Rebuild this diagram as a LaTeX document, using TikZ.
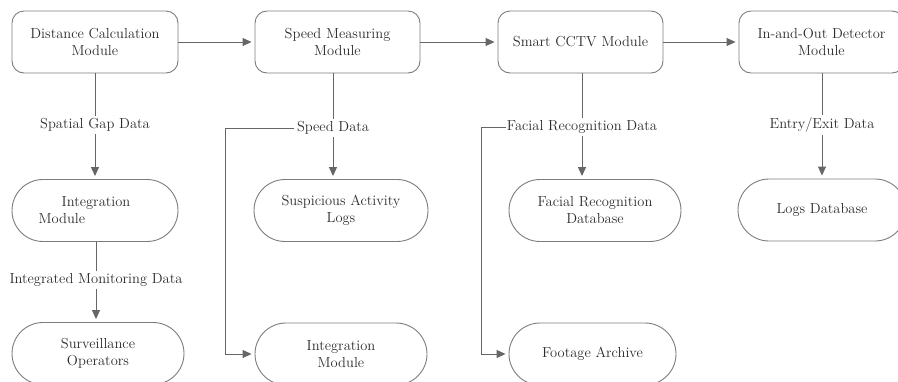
\documentclass[tikz,border=0pt]{standalone}
\usepackage{tikz}
\usetikzlibrary{shapes.misc}
\usetikzlibrary{arrows.meta}
\definecolor{linegray}{HTML}{666666}
\definecolor{boxgray}{HTML}{7C7C7C}
\definecolor{txtgray}{HTML}{2C2C2C}
\tikzset{module/.style={rectangle, draw=boxgray, line width=0.9pt, rounded corners=12pt, minimum height=62pt, inner sep=0pt, align=center, text=txtgray, font=\fontsize{14.5}{17}\selectfont}}
\tikzset{store/.style={rounded rectangle, draw=boxgray, line width=0.9pt, minimum height=62pt, inner sep=0pt, align=center, text=txtgray, font=\fontsize{14.5}{17}\selectfont}}
\tikzset{flowlab/.style={inner sep=2.5pt, text=txtgray, font=\fontsize{14.5}{17}\selectfont}}
\tikzset{arr/.style={draw=linegray, line width=1pt, -{Triangle[length=9pt,width=8pt]}, shorten >=3pt}}
\tikzset{link/.style={draw=linegray, line width=1pt}}

\begin{document}
\begin{tikzpicture}[x=1pt,y=-1pt]
  \useasboundingbox (0,0) rectangle (898,381);
  \begin{scope}
    \clip (0,0) rectangle (898,381);
  % top row of modules
  \foreach \x/\w/\lab/\txt in {
    95/166/dcm/{Distance Calculation\\Module},
    337.5/165/smm/{Speed Measuring\\Module},
    580.5/165/scm/{Smart CCTV Module},
    821.5/165/iod/{In-and-Out Detector\\Module}%
  } {
    \node[module, minimum width=\w pt] (\lab) at (\x, 42) {\txt};
  }
  % outputs
  \node[store, minimum width=166pt, align=left] (iml) at (95, 210.5) {\hspace*{23pt}Integration\hspace*{21pt}\\Module};
  \node[store, minimum width=174pt] (sal) at (341, 210.5) {Suspicious Activity\\Logs};
  \node[store, minimum width=172pt] (frdb) at (595, 210.5) {Facial Recognition\\Database};
  \node[store, minimum width=168pt] (ldb) at (822, 210) {Logs Database};
  \node[store, minimum width=172pt] (so) at (98, 353.5) {Surveillance\\Operators};
  \node[store, minimum width=172pt] (imr) at (341, 354) {Integration\\Module};
  \node[store, minimum width=167pt] (fa) at (592.5, 354) {Footage Archive};

  % data labels
  \node[flowlab] (sgd) at (95, 125) {Spatial Gap Data};
  \node[flowlab] (sd) at (333, 128) {Speed Data};
  \node[flowlab] (frd) at (582, 127) {Facial Recognition Data};
  \node[flowlab] (eed) at (822, 125) {Entry/Exit Data};
  \node[flowlab] (imd) at (96, 280) {Integrated Monitoring Data};

  % main chain
  \foreach \u/\v in {dcm/smm, smm/scm, scm/iod}{
    \draw[arr] (\u) -- (\v);
  }
  % down links through labels
  \foreach \u/\l/\v in {dcm/sgd/iml, smm/sd/sal, scm/frd/frdb, iod/eed/ldb, iml/imd/so}{
    \draw[link] (\u.south -| \l) -- (\l);
    \draw[arr] (\l) -- (\l |- \v.north);
  }
  % side branches
  \draw[arr] (sd.west) -| ([xshift=-29pt]imr.west) -- (imr.west);
  \draw[arr] ([xshift=2pt]frd.west) -| ([xshift=-27pt]fa.west) -- (fa.west);
  \end{scope}
\end{tikzpicture}
\end{document}
